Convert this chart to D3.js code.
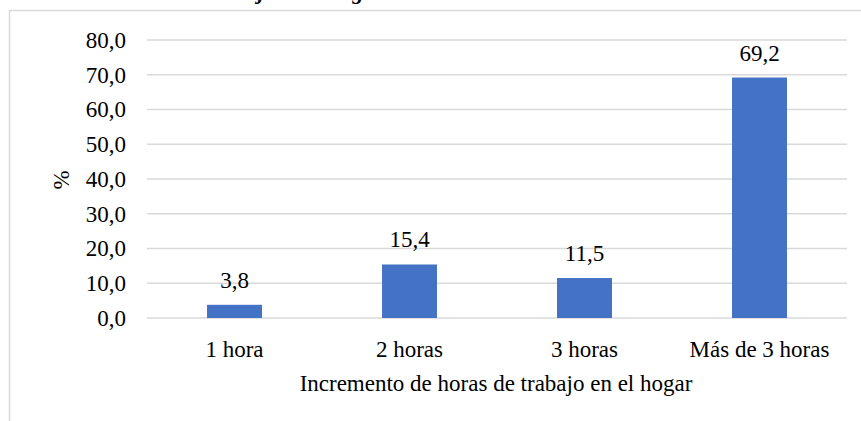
<!DOCTYPE html>
<html lang="es">
<head>
  <meta charset="UTF-8">
  <title>Incremento de horas de trabajo en el hogar</title>
  <script src="https://d3js.org/d3.v7.min.js"></script>
  <style>
    body { margin: 0; background: #fff; }
    .grid line { stroke: #d9d9d9; stroke-width: 1.3px; }
    .lbl { font-size: 23px; fill: #000; }
  </style>
</head>
<body>
  <svg id="chart" width="861" height="421" font-family="Liberation Serif, Times New Roman, serif"></svg>
  <script>
    // datos
    const categories = ["1 hora", "2 horas", "3 horas", "Más de 3 horas"];
    const values = [3.8, 15.4, 11.5, 69.2];
    const yTicks = [0, 10, 20, 30, 40, 50, 60, 70, 80];

    const svg = d3.select("#chart");
    const fmt = v => d3.format(".1f")(v).replace(".", ",");

    const margin = {left: 147, right: 14, top: 40, bottom: 103};
    const width = 861, height = 421;

    // title, cut off at the top of the picture
    svg.append("text")
      .attr("x", -10).attr("y", -1)
      .style("font-size", "22px").style("font-weight", "bold").style("font-style", "italic")
      .text("Incremento de horas de trabajo en el hogar");

    // chart frame
    svg.append("rect")
      .attr("x", 9.5).attr("y", 10.5)
      .attr("width", 900).attr("height", 500)
      .attr("fill", "none").attr("stroke", "#d9d9d9").attr("stroke-width", 1.5);

    const x = d3.scaleBand()
      .domain(categories)
      .range([margin.left, width - margin.right])
      .paddingInner(0.686)
      .paddingOuter(0.343);

    const y = d3.scaleLinear()
      .domain([0, 80])
      .range([height - margin.bottom, margin.top]);

    // gridlines
    svg.append("g").attr("class", "grid")
      .selectAll("line")
      .data(yTicks)
      .enter().append("line")
      .attr("x1", margin.left).attr("x2", width - margin.right)
      .attr("y1", d => y(d)).attr("y2", d => y(d));

    // y tick labels
    svg.append("g")
      .selectAll("text")
      .data(yTicks)
      .enter().append("text")
      .attr("class", "lbl")
      .attr("x", 126)
      .attr("y", d => y(d))
      .attr("dy", "0.34em")
      .attr("text-anchor", "end")
      .text(fmt);

    // bars
    svg.append("g")
      .selectAll("rect")
      .data(values)
      .enter().append("rect")
      .attr("x", (d, i) => x(categories[i]))
      .attr("width", x.bandwidth())
      .attr("y", d => y(d))
      .attr("height", d => y(0) - y(d))
      .attr("fill", "#4472c4");

    // value labels
    svg.append("g")
      .selectAll("text")
      .data(values)
      .enter().append("text")
      .attr("class", "lbl")
      .attr("x", (d, i) => x(categories[i]) + x.bandwidth() / 2)
      .attr("y", d => y(d) - 17)
      .attr("text-anchor", "middle")
      .text(fmt);

    // category labels
    svg.append("g")
      .selectAll("text")
      .data(categories)
      .enter().append("text")
      .attr("class", "lbl")
      .attr("x", d => x(d) + x.bandwidth() / 2)
      .attr("y", 357)
      .attr("text-anchor", "middle")
      .text(d => d);

    // axis titles
    svg.append("text")
      .attr("class", "lbl")
      .attr("x", 496)
      .attr("y", 391)
      .attr("text-anchor", "middle")
      .text("Incremento de horas de trabajo en el hogar");

    svg.append("text")
      .attr("class", "lbl")
      .attr("transform", "translate(69,180) rotate(-90)")
      .attr("text-anchor", "middle")
      .text("%");
  </script>
</body>
</html>
